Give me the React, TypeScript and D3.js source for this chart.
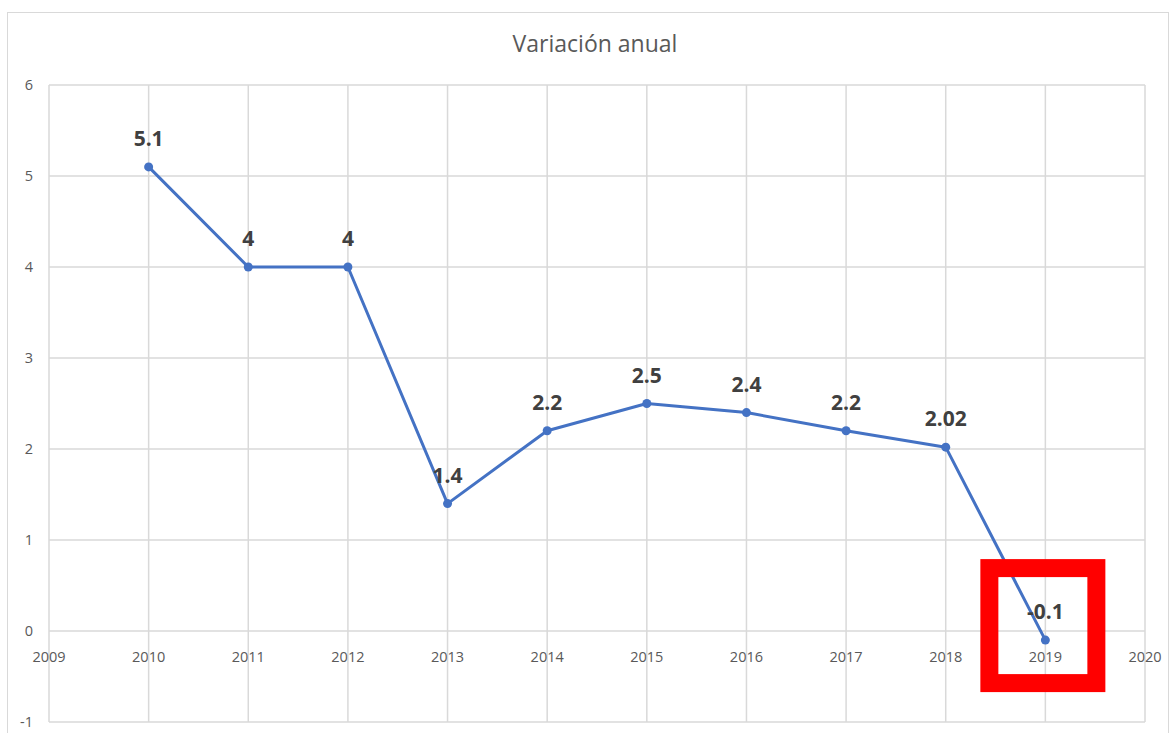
import React from "react";
import { scaleLinear, line } from "d3";

const years = [2010, 2011, 2012, 2013, 2014, 2015, 2016, 2017, 2018, 2019];
const values = [5.1, 4, 4, 1.4, 2.2, 2.5, 2.4, 2.2, 2.02, -0.1];
const labels = ["5.1", "4", "4", "1.4", "2.2", "2.5", "2.4", "2.2", "2.02", "-0.1"];
const xTicks = [2009, 2010, 2011, 2012, 2013, 2014, 2015, 2016, 2017, 2018, 2019, 2020];
const yTicks = [-1, 0, 1, 2, 3, 4, 5, 6];
const highlightYear = 2019;

const width = 1170;
const height = 733;
const margin = { top: 85, right: 25, bottom: 11, left: 49 };

const App = () => {
  const x = scaleLinear()
    .domain([2009, 2020])
    .range([margin.left, width - margin.right]);
  const y = scaleLinear()
    .domain([-1, 6])
    .range([height - margin.bottom, margin.top]);

  const pts = years.map((yr, i) => ({ yr, v: values[i], label: labels[i] }));
  const path = line<{ yr: number; v: number }>()
    .x(d => x(d.yr))
    .y(d => y(d.v))(pts);

  const hi = pts.find(d => d.yr === highlightYear)!;
  const font = "'Open Sans', 'Noto Sans', sans-serif";

  return (
    <svg
      width={width}
      height={height}
      style={{ position: "absolute", left: 0, top: 0, background: "#fff" }}
    >
      {/* chart frame */}
      <rect x={7.5} y={12.5} width={1161} height={740} fill="#fff" stroke="#d9d9d9" />

      <text x={595} y={52} textAnchor="middle" fontSize={23} fill="#595959" fontFamily={font}>
        Variación anual
      </text>

      {/* grid */}
      {yTicks.map(t => (
        <line key={"gy" + t} x1={x(2009)} x2={x(2020)} y1={y(t)} y2={y(t)} stroke="#d9d9d9" strokeWidth={1.5} />
      ))}
      {xTicks.map(t => (
        <line key={"gx" + t} x1={x(t)} x2={x(t)} y1={y(-1)} y2={y(6)} stroke="#d9d9d9" strokeWidth={1.5} />
      ))}

      {/* y tick labels */}
      {yTicks.map(t => (
        <text key={"ty" + t} x={33} y={y(t)} dy="0.35em" textAnchor="end" fontSize={14.5} fill="#595959" fontFamily={font}>
          {t}
        </text>
      ))}
      {/* x tick labels */}
      {xTicks.map(t => (
        <text key={"tx" + t} x={x(t)} y={y(0) + 31} textAnchor="middle" fontSize={14.5} fill="#595959" fontFamily={font}>
          {t}
        </text>
      ))}

      {/* series */}
      <path d={path ?? ""} fill="none" stroke="#4472C4" strokeWidth={3} strokeLinejoin="round" />
      {pts.map(d => (
        <circle key={"c" + d.yr} cx={x(d.yr)} cy={y(d.v)} r={4.5} fill="#4472C4" />
      ))}
      {pts.map(d => (
        <text key={"l" + d.yr} x={x(d.yr)} y={y(d.v) - 21} textAnchor="middle" fontSize={21} fontWeight="bold" fill="#404040" fontFamily={font}>
          {d.label}
        </text>
      ))}

      {/* highlight box */}
      <rect
        x={x(hi.yr) - 56}
        y={y(hi.v) - 72}
        width={107}
        height={115}
        fill="none"
        stroke="#ff0000"
        strokeWidth={18}
      />
    </svg>
  );
};

export default App;
